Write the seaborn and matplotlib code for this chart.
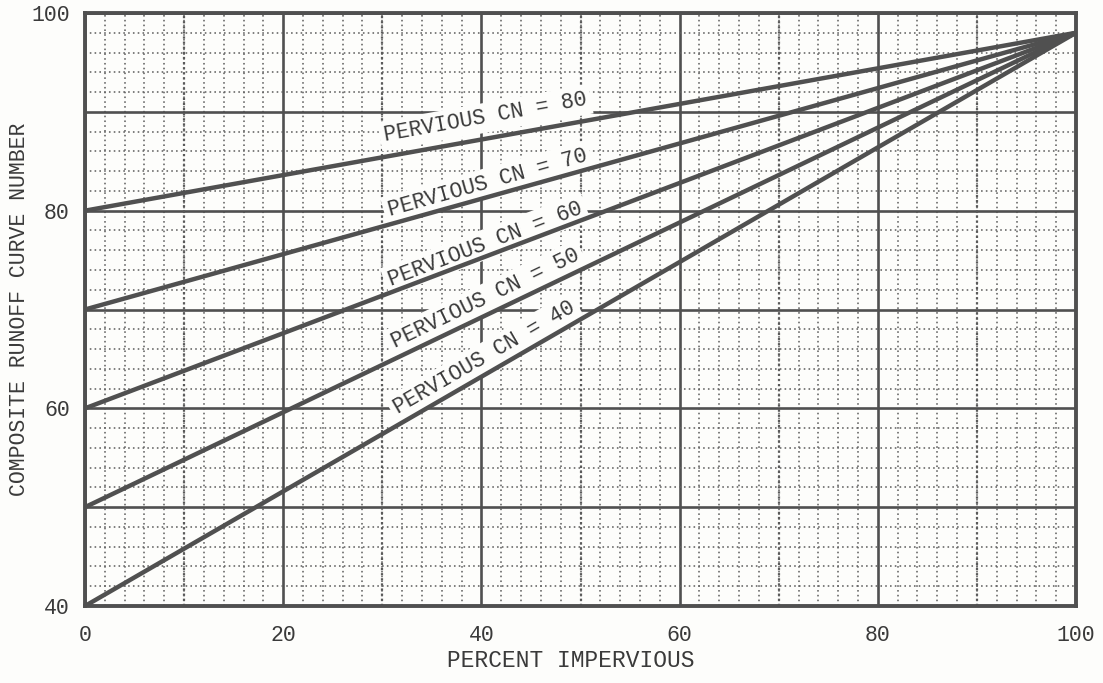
import numpy as np
import pandas as pd
import matplotlib
matplotlib.use("Agg")
import matplotlib.pyplot as plt
import seaborn as sns

# Composite runoff curve number vs. percent impervious area
pervious_cn = [80, 70, 60, 50, 40]
pct_endpoints = [0, 100]
impervious_cn = 98

# Label centres (percent impervious, curve number) for each line's caption
label_x = [40.4, 40.6, 40.4, 40.4, 40.3]
label_y = [89.4, 82.8, 76.6, 71.1, 65.1]

x_ticks = [0, 20, 40, 60, 80, 100]
y_ticks = [40, 60, 80, 100]

rows = []
for cn in pervious_cn:
    rows.append({"pct": pct_endpoints[0], "cn": cn, "pervious": cn})
    rows.append({"pct": pct_endpoints[1], "cn": impervious_cn, "pervious": cn})
df = pd.DataFrame(rows)

sns.set_theme(style="white")
plt.rcParams["font.family"] = ["Liberation Mono", "DejaVu Sans Mono"]

ink = "#505050"
text_ink = "#3a3a3a"
paper = "#fdfdfb"

fig = plt.figure(figsize=(11.03, 6.83), dpi=100, facecolor=paper)
ax = fig.add_axes([85 / 1103, 1 - 606 / 683, (1076 - 85) / 1103, (606 - 13) / 683])
ax.set_facecolor(paper)

ax.set_xlim(0, 100)
ax.set_ylim(40, 100)

# graph-paper grid
ax.set_xticks(x_ticks)
ax.set_xticks(np.arange(0, 101, 2), minor=True)
ax.set_yticks(np.arange(40, 101, 10))
ax.set_yticklabels([str(v) if v in y_ticks else "" for v in np.arange(40, 101, 10)])
ax.set_yticks(np.arange(40, 101, 2), minor=True)
ax.grid(which="major", color=ink, lw=1.9, ls="-", zorder=1)
ax.grid(which="minor", color="#626262", lw=1.15, ls=(0, (1, 2)), zorder=0)
for xv in range(10, 100, 20):
    ax.axvline(xv, color="#5a5a5a", lw=1.6, ls=(0, (1, 1.3)), zorder=1)
ax.set_axisbelow(True)

sns.lineplot(data=df, x="pct", y="cn", units="pervious", estimator=None,
             color=ink, lw=3.2, ax=ax, zorder=3, legend=False)

# captions sit on a blank patch of paper, beneath the curves
for cn, lx, ly in zip(pervious_cn, label_x, label_y):
    p0 = ax.transData.transform((0, cn))
    p1 = ax.transData.transform((100, impervious_cn))
    ang = np.degrees(np.arctan2(p1[1] - p0[1], p1[0] - p0[0]))
    ax.text(lx, ly, f"PERVIOUS CN = {cn}", rotation=ang, rotation_mode="anchor",
            ha="center", va="center", fontsize=15.5, color=text_ink, zorder=2.5,
            bbox=dict(boxstyle="square,pad=0.2", fc=paper, ec="none"))

for side in ax.spines.values():
    side.set_color(ink)
    side.set_linewidth(2.8)

ax.tick_params(axis="both", which="both", length=0, colors=text_ink, labelsize=15.5)
ax.tick_params(axis="x", pad=14)
ax.tick_params(axis="y", pad=11)

ax.set_xlabel("PERCENT IMPERVIOUS", fontsize=16.5, color=text_ink)
ax.set_ylabel("COMPOSITE RUNOFF CURVE NUMBER", fontsize=15.5, color=text_ink)
ax.xaxis.set_label_coords(0.49, -0.072)
ax.yaxis.set_label_coords(-0.056, 0.5)

fig.savefig("out.png", dpi=100, facecolor=paper)
